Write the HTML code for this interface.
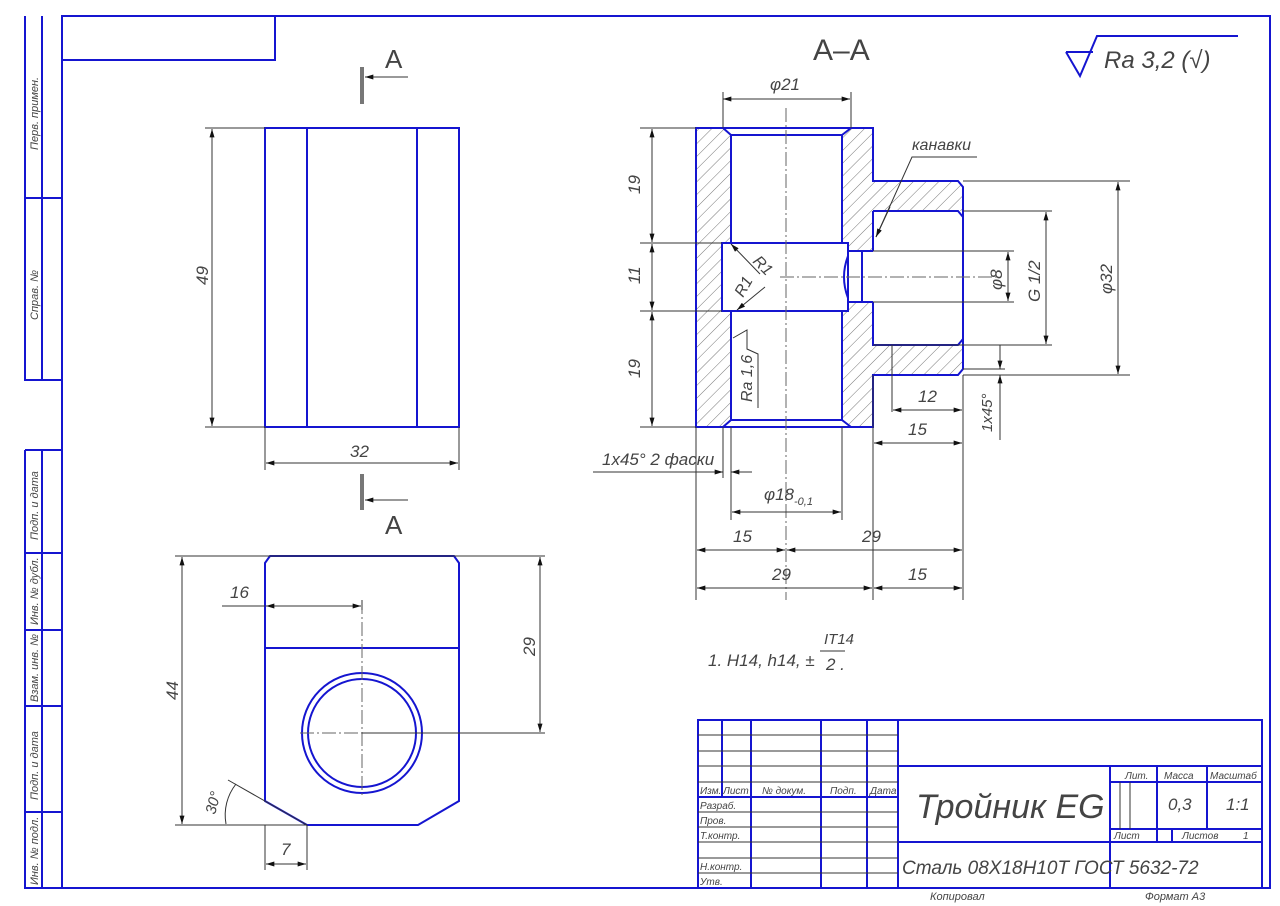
<!DOCTYPE html>
<html><head><meta charset="utf-8"><style>
html,body{margin:0;padding:0;background:#fff;}
svg{display:block;}
text{font-family:"Liberation Sans","DejaVu Sans",sans-serif;font-style:italic;fill:#444;}
.b{stroke:#1515d0;stroke-width:2;fill:none;}
.t{stroke:#333;stroke-width:1;fill:none;}
.c{stroke:#666;stroke-width:1;fill:none;stroke-dasharray:14 3 2 3;}
</style></head><body>
<svg width="1280" height="906" viewBox="0 0 1280 906" xmlns="http://www.w3.org/2000/svg">
<defs>
<pattern id="h" patternUnits="userSpaceOnUse" width="9" height="9" patternTransform="rotate(45)">
<line x1="0" y1="0" x2="0" y2="9" stroke="#555" stroke-width="0.8"/>
</pattern>
<marker id="a" viewBox="0 0 10 6" refX="10" refY="3" markerWidth="12" markerHeight="5" orient="auto-start-reverse" markerUnits="userSpaceOnUse"><path d="M0,0 L10,3 L0,6z" fill="#111"/></marker>
</defs>
<rect width="1280" height="906" fill="#fff"/>
<!-- frame -->
<rect x="62" y="16" width="1208" height="872" class="b"/>
<path class="b" d="M62,60 H275 V16"/>
<path class="b" d="M25,16 V380 H62 M42,16 V380 M25,198 H62"/>
<path class="b" d="M25,450 V888 H62 M42,450 V888 M25,450 H62 M25,553 H62 M25,630 H62 M25,706 H62 M25,812 H62"/>
<g font-size="11">
<text transform="translate(38,150) rotate(-90)">Перв. примен.</text>
<text transform="translate(38,320) rotate(-90)">Справ. №</text>
<text transform="translate(38,540) rotate(-90)">Подп. и дата</text>
<text transform="translate(38,625) rotate(-90)">Инв. № дубл.</text>
<text transform="translate(38,702) rotate(-90)">Взам. инв. №</text>
<text transform="translate(38,800) rotate(-90)">Подп. и дата</text>
<text transform="translate(38,885) rotate(-90)">Инв. № подл.</text>
</g>

<!-- section markers -->
<line x1="362" y1="67" x2="362" y2="104" stroke="#777" stroke-width="4"/>
<line x1="408" y1="77" x2="365" y2="77" class="t" marker-end="url(#a)"/>
<text x="385" y="68" font-size="26" style="font-style:normal">A</text>
<line x1="362" y1="474" x2="362" y2="510" stroke="#777" stroke-width="4"/>
<line x1="408" y1="500" x2="365" y2="500" class="t" marker-end="url(#a)"/>
<text x="385" y="534" font-size="26" style="font-style:normal">A</text>

<!-- top view -->
<rect x="265" y="128" width="194" height="299" class="b"/>
<path class="b" d="M307,128 V427 M417,128 V427"/>
<path class="t" d="M205,128 H265 M205,427 H265 M265,427 V470 M459,427 V470"/>
<line x1="212" y1="129" x2="212" y2="426" class="t" marker-start="url(#a)" marker-end="url(#a)"/>
<text transform="translate(208,285) rotate(-90)" font-size="17">49</text>
<line x1="266" y1="463" x2="458" y2="463" class="t" marker-start="url(#a)" marker-end="url(#a)"/>
<text x="350" y="457" font-size="17">32</text>

<!-- bottom view -->
<path class="b" d="M270,556 H454 L459,563 V801 L418,825 H307 L265,801 V563 Z"/>
<path class="b" d="M265,648 H459"/>
<circle cx="362" cy="733" r="60" class="b"/>
<circle cx="362" cy="733" r="54" class="b"/>
<path class="c" d="M362,600 V795 M300,733 H362"/>
<path class="t" d="M362,733 H545 M175,556 H545 M175,825 H307 M228,780 L307,825 M265,825 V870 M307,825 V870 M362,600 V610 M222,606 H265"/>
<line x1="182" y1="557" x2="182" y2="824" class="t" marker-start="url(#a)" marker-end="url(#a)"/>
<text transform="translate(178,700) rotate(-90)" font-size="17">44</text>
<line x1="540" y1="557" x2="540" y2="732" class="t" marker-start="url(#a)" marker-end="url(#a)"/>
<text transform="translate(535,656) rotate(-90)" font-size="17">29</text>
<line x1="266" y1="606" x2="361" y2="606" class="t" marker-start="url(#a)" marker-end="url(#a)"/>
<text x="230" y="598" font-size="17">16</text>
<line x1="266" y1="864" x2="306" y2="864" class="t" marker-start="url(#a)" marker-end="url(#a)"/>
<text x="281" y="855" font-size="17">7</text>
<path class="t" d="M236,784 A50,50 0 0 0 226,824" />
<text transform="translate(215,815) rotate(-75)" font-size="15">30°</text>

<!-- section A-A -->
<text x="813" y="60" font-size="30" style="font-style:normal">A–A</text>
<path d="M696,128 H723 L731,135 V243 H722 V311 H731 V420 L723,427 H696 Z" fill="url(#h)"/>
<path d="M851,128 H873 V181 H958 L963,187 V211 H873 V251 H848 V243 H842 V135 Z" fill="url(#h)"/>
<path d="M842,311 H848 V302 H873 V345 H963 V369 L958,375 H873 V427 H851 L842,420 Z" fill="url(#h)"/>
<path class="b" d="M696,128 H873 V181 H958 L963,187 V369 L958,375 H873 V427 H696 Z"/>
<path class="b" d="M723,128 L731,135 H842 L851,128 M731,135 V243 M842,135 V243 M722,243 H848 V311 H722 Z"/>
<path class="b" d="M731,311 V420 L723,427 M842,311 V420 L851,427 M731,420 H842"/>
<path class="b" d="M873,211 H958 L963,217 M873,211 V251 M873,302 V345 H958 L963,339 M848,251 H873 M848,302 H873 M862,251 V302"/>
<path class="b" d="M848,256 Q840,277 848,298" />
<path class="c" d="M786,108 V600 M780,277 H1000"/>
<!-- ext lines -->
<path class="t" d="M723,92 V128 M851,92 V128 M640,128 H696 M640,243 H722 M640,311 H722 M640,427 H696"/>
<path class="t" d="M963,181 H1130 M963,211 H1052 M873,251 H1014 M873,302 H1014 M873,345 H1052 M963,375 H1130 M963,369 H1005"/>
<path class="t" d="M696,427 V600 M873,375 V600 M963,375 V600 M892,345 V412 M731,427 V520 M842,427 V520 M723,427 V478"/>
<line x1="723" y1="99" x2="850" y2="99" class="t" marker-start="url(#a)" marker-end="url(#a)"/>
<text x="770" y="90" font-size="17">φ21</text>
<line x1="652" y1="129" x2="652" y2="242" class="t" marker-start="url(#a)" marker-end="url(#a)"/>
<line x1="652" y1="244" x2="652" y2="310" class="t" marker-start="url(#a)" marker-end="url(#a)"/>
<line x1="652" y1="312" x2="652" y2="426" class="t" marker-start="url(#a)" marker-end="url(#a)"/>
<text transform="translate(640,194) rotate(-90)" font-size="17">19</text>
<text transform="translate(640,284) rotate(-90)" font-size="17">11</text>
<text transform="translate(640,378) rotate(-90)" font-size="17">19</text>
<line x1="1118" y1="182" x2="1118" y2="374" class="t" marker-start="url(#a)" marker-end="url(#a)"/>
<text transform="translate(1112,294) rotate(-90)" font-size="17">φ32</text>
<line x1="1046" y1="212" x2="1046" y2="344" class="t" marker-start="url(#a)" marker-end="url(#a)"/>
<text transform="translate(1040,302) rotate(-90)" font-size="17">G 1/2</text>
<line x1="1008" y1="252" x2="1008" y2="301" class="t" marker-start="url(#a)" marker-end="url(#a)"/>
<text transform="translate(1002,290) rotate(-90)" font-size="17">φ8</text>
<path class="t" d="M1000,345 V357 M1000,378 V440"/>
<line x1="1000" y1="345" x2="1000" y2="369" class="t" marker-end="url(#a)"/>
<line x1="1000" y1="393" x2="1000" y2="375" class="t" marker-end="url(#a)"/>
<text transform="translate(992,432) rotate(-90)" font-size="15">1x45°</text>
<line x1="893" y1="410" x2="962" y2="410" class="t" marker-start="url(#a)" marker-end="url(#a)"/>
<text x="918" y="402" font-size="17">12</text>
<line x1="874" y1="443" x2="962" y2="443" class="t" marker-start="url(#a)" marker-end="url(#a)"/>
<text x="908" y="435" font-size="17">15</text>
<path class="t" d="M593,472 H710"/>
<line x1="700" y1="472" x2="723" y2="472" class="t" marker-end="url(#a)"/>
<line x1="752" y1="472" x2="731" y2="472" class="t" marker-end="url(#a)"/>
<text x="602" y="465" font-size="17">1x45° 2 фаски</text>
<line x1="732" y1="512" x2="841" y2="512" class="t" marker-start="url(#a)" marker-end="url(#a)"/>
<text x="764" y="500" font-size="17">φ18<tspan font-size="11" dy="5">-0,1</tspan></text>
<line x1="697" y1="550" x2="785" y2="550" class="t" marker-start="url(#a)" marker-end="url(#a)"/>
<line x1="787" y1="550" x2="962" y2="550" class="t" marker-start="url(#a)" marker-end="url(#a)"/>
<text x="733" y="542" font-size="17">15</text>
<text x="862" y="542" font-size="17">29</text>
<line x1="697" y1="588" x2="872" y2="588" class="t" marker-start="url(#a)" marker-end="url(#a)"/>
<line x1="874" y1="588" x2="962" y2="588" class="t" marker-start="url(#a)" marker-end="url(#a)"/>
<text x="772" y="580" font-size="17">29</text>
<text x="908" y="580" font-size="17">15</text>
<!-- R1 leaders -->
<line x1="760" y1="274" x2="731" y2="244" class="t" marker-end="url(#a)"/>
<text transform="translate(752,262) rotate(45)" font-size="16">R1</text>
<line x1="765" y1="287" x2="737" y2="310" class="t" marker-end="url(#a)"/>
<text transform="translate(743,298) rotate(-60)" font-size="16">R1</text>
<!-- Ra 1.6 -->
<path class="t" d="M733,338 L747,330 V349 L758,354 V408"/>
<text transform="translate(752,402) rotate(-90)" font-size="16">Ra 1,6</text>
<!-- канавки -->
<path class="t" d="M977,157 H912 L876,237"/>
<line x1="890" y1="207" x2="876" y2="237" class="t" marker-end="url(#a)"/>
<text x="912" y="150" font-size="16">канавки</text>
<!-- roughness -->
<path class="b" d="M1066,52 H1093 M1066,52 L1080,76 L1097,36 H1238"/>
<text x="1104" y="68" font-size="24">Ra 3,2 (√)</text>
<!-- note -->
<text x="708" y="666" font-size="17">1. H14, h14, ±</text>
<text x="824" y="644" font-size="15">IT14</text>
<line x1="820" y1="651" x2="845" y2="651" class="t"/>
<text x="826" y="670" font-size="17">2 .</text>

<!-- title block -->
<rect x="698" y="720" width="564" height="168" class="b"/>
<path class="b" d="M722,720 V797 M751,720 V888 M821,720 V888 M867,720 V888 M898,720 V888 M698,797 H898"/>
<path class="t" d="M698,735 H898 M698,751 H898 M698,766 H898 M698,782 H898 M698,812 H898 M698,827 H898 M698,842 H898 M698,858 H898 M698,873 H898"/>
<path class="b" d="M898,766 H1262 M898,842 H1262 M1110,766 V888 M1157,766 V842 M1207,766 V829 M1110,782 H1262 M1110,829 H1262 M1172,829 V842"/>
<path class="t" d="M1120,782 V829 M1130,782 V829"/>
<g font-size="10">
<text x="700" y="794">Изм.</text><text x="723" y="794">Лист</text><text x="762" y="794">№ докум.</text><text x="830" y="794">Подп.</text><text x="870" y="794">Дата</text>
<text x="700" y="809">Разраб.</text><text x="700" y="824">Пров.</text><text x="700" y="839">Т.контр.</text>
<text x="700" y="870">Н.контр.</text><text x="700" y="885">Утв.</text>
<text x="1125" y="779">Лит.</text><text x="1164" y="779">Масса</text><text x="1210" y="779">Масштаб</text>
<text x="1114" y="839">Лист</text><text x="1182" y="839">Листов</text><text x="1243" y="839">1</text>
</g>
<text x="1168" y="810" font-size="17" fill="#666">0,3</text>
<text x="1226" y="810" font-size="17">1:1</text>
<text x="916" y="818" font-size="34">Тройник EG</text>
<text x="902" y="874" font-size="19">Сталь 08Х18Н10Т ГОСТ 5632-72</text>
<text x="930" y="900" font-size="11">Копировал</text>
<text x="1145" y="900" font-size="11">Формат    A3</text>
</svg>
</body></html>
